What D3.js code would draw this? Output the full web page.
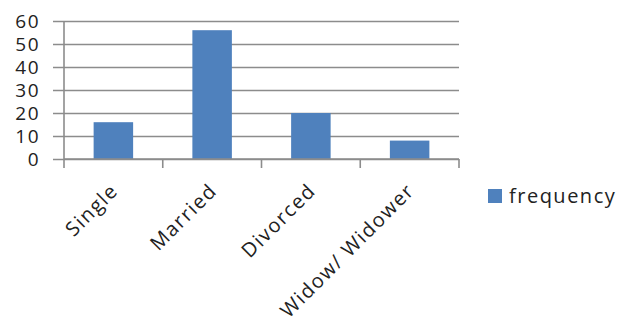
<!DOCTYPE html>
<html>
<head>
<meta charset="utf-8">
<script src="https://cdn.jsdelivr.net/npm/d3@7"></script>
<style>
  html, body { margin: 0; padding: 0; background: #fff; }
  svg { display: block; }
  text { font-family: "Open Sans", sans-serif; fill: #222; font-size: 20px; letter-spacing: 1.5px; }
</style>
</head>
<body>
<svg id="chart" width="622" height="324"></svg>
<script>
// Marital status frequencies
const categories = ["Single", "Married", "Divorced", "Widow/ Widower"];
const frequency = [16, 56, 20, 8];
const yTicks = [0, 10, 20, 30, 40, 50, 60];
const seriesName = "frequency";

const svg = d3.select("#chart");
const plot = { left: 64, right: 459, top: 21, bottom: 159 };
const tickLen = 11;
const barColor = "#4f81bd";
const gridColor = "#8c8c8c";

const x = d3.scaleBand()
  .domain(categories)
  .range([plot.left, plot.right])
  .paddingInner(0.6)
  .paddingOuter(0.3);

const y = d3.scaleLinear()
  .domain([0, 60])
  .range([plot.bottom, plot.top]);

// horizontal gridlines, each starting with an outside tick mark
const yAxis = d3.axisLeft(y)
  .tickValues(yTicks)
  .tickSize(0)
  .tickFormat(d3.format("d"));

const gy = svg.append("g")
  .attr("transform", `translate(${plot.left},0)`)
  .call(yAxis);
gy.attr("font-size", null).attr("font-family", null);
gy.select(".domain").remove();
gy.selectAll(".tick line")
  .attr("x1", -tickLen)
  .attr("x2", plot.right - plot.left)
  .attr("stroke", gridColor)
  .attr("stroke-width", 1.6);
gy.selectAll(".tick text")
  .attr("x", -24)
  .attr("fill", "#222")
  .style("font-size", "19px");

// vertical axis line
svg.append("line")
  .attr("x1", plot.left).attr("x2", plot.left)
  .attr("y1", plot.top).attr("y2", plot.bottom)
  .attr("stroke", gridColor).attr("stroke-width", 1.6);

// bars
svg.append("g").selectAll("rect")
  .data(categories)
  .join("rect")
  .attr("x", d => x(d))
  .attr("width", x.bandwidth())
  .attr("y", (d, i) => y(frequency[i]))
  .attr("height", (d, i) => y(0) - y(frequency[i]))
  .attr("fill", barColor);

// category axis with ticks between categories
const boundaries = d3.range(categories.length + 1)
  .map(i => plot.left + i * (plot.right - plot.left) / categories.length);
const gx = svg.append("g");
gx.append("line")
  .attr("x1", plot.left).attr("x2", plot.right)
  .attr("y1", plot.bottom).attr("y2", plot.bottom)
  .attr("stroke", gridColor).attr("stroke-width", 1.6);
gx.selectAll("line.tk")
  .data(boundaries)
  .join("line")
  .attr("class", "tk")
  .attr("x1", d => d).attr("x2", d => d)
  .attr("y1", plot.bottom).attr("y2", plot.bottom + 9)
  .attr("stroke", gridColor).attr("stroke-width", 1.6);

gx.selectAll("text")
  .data(categories)
  .join("text")
  .attr("text-anchor", "end")
  .attr("transform", d => `translate(${x(d) + x.bandwidth() / 2 + 6},${plot.bottom + 33}) rotate(-45)`)
  .text(d => d);

// legend
const legend = svg.append("g").attr("transform", "translate(488,189)");
legend.append("rect")
  .attr("width", 14).attr("height", 14)
  .attr("fill", barColor);
legend.append("text")
  .attr("x", 21).attr("y", 14)
  .text(seriesName);
</script>
</body>
</html>
